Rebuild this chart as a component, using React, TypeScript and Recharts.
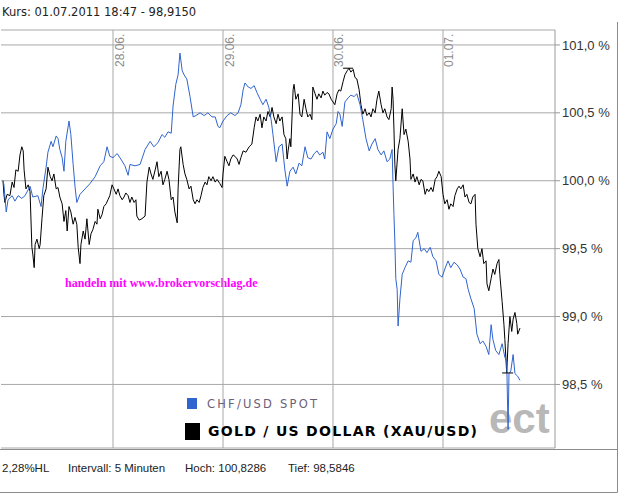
import { LineChart, Line, XAxis, YAxis, CartesianGrid, ReferenceLine } from "recharts"

const W = 623
const H = 495

// hours since 27.06. 00:00, one entry per sampled quote
const chfHours = [
	0, 0.2, 0.7, 1.1, 2.0, 2.6, 3.3, 4.1, 4.8, 5.9,
	6.5, 7.6, 8.3, 8.7, 9.4, 9.8, 10.5, 10.9, 11.6, 12.0,
	12.4, 12.9, 13.3, 13.7, 14.4, 14.8, 15.3, 15.7, 16.1, 16.8,
	17.9, 19.0, 20.1, 21.2, 22.0, 22.7, 23.3, 24.0, 24.9, 25.7,
	26.6, 27.3, 27.7, 28.8, 29.9, 31.0, 32.1, 32.9, 33.8, 34.7,
	35.3, 36.0, 36.7, 37.1, 37.7, 38.2, 38.6, 39.1, 39.5, 40.1,
	40.8, 41.5, 42.1, 43.0, 43.9, 44.7, 45.6, 46.3, 46.9, 47.3,
	48.0, 48.9, 49.7, 50.6, 51.3, 51.9, 52.4, 52.8, 53.5, 54.1,
	54.8, 55.4, 56.1, 56.7, 57.4, 58.0, 58.5, 58.9, 59.6, 60.2,
	60.9, 61.5, 62.0, 62.6, 63.3, 63.9, 64.6, 65.2, 65.9, 66.5,
	67.2, 67.9, 68.5, 69.1, 69.8, 70.2, 70.7, 71.3, 72.0, 72.7,
	73.1, 73.5, 74.0, 74.6, 75.3, 75.9, 76.6, 77.2, 77.9, 78.5,
	79.2, 79.9, 80.5, 81.2, 81.8, 82.5, 83.1, 83.8, 84.4, 84.9,
	85.1, 85.3, 85.5, 85.7, 86.0, 86.2, 86.6, 87.1, 87.7, 88.4,
	89.0, 89.5, 90.1, 90.5, 91.2, 91.9, 92.5, 93.2, 93.8, 94.5,
	95.1, 95.8, 96.4, 97.1, 97.7, 98.4, 99.1, 99.7, 100.4, 101.0,
	101.5, 102.1, 102.8, 103.4, 104.1, 104.7, 105.4, 106.0, 106.5, 106.9,
	107.5, 108.2, 108.9, 109.5, 109.9, 110.2, 110.4, 110.8, 111.3, 111.7,
	112.3, 112.8
]

// CHF/USD SPOT, in % of start value
const chfValues = [
	100.00, 99.97, 99.77, 99.86, 99.89, 99.85, 99.89, 99.87, 99.89, 99.96,
	99.88, 99.89, 99.81, 99.94, 100.10, 100.21, 100.29, 100.25, 100.33, 100.31,
	100.23, 100.17, 100.07, 100.29, 100.44, 100.34, 100.12, 99.96, 99.84, 99.90,
	99.94, 99.98, 100.03, 100.11, 100.14, 100.25, 100.18, 100.17, 100.20, 100.16,
	100.11, 100.04, 100.12, 100.11, 100.12, 100.23, 100.29, 100.25, 100.28, 100.34,
	100.32, 100.36, 100.35, 100.55, 100.71, 100.78, 100.94, 100.81, 100.78, 100.75,
	100.62, 100.47, 100.48, 100.50, 100.48, 100.50, 100.47, 100.47, 100.40, 100.39,
	100.44, 100.48, 100.50, 100.48, 100.50, 100.56, 100.67, 100.72, 100.69, 100.68,
	100.70, 100.65, 100.60, 100.56, 100.60, 100.54, 100.45, 100.34, 100.14, 100.25,
	100.27, 100.08, 99.96, 100.07, 100.10, 100.05, 100.13, 100.11, 100.25, 100.17,
	100.16, 100.20, 100.22, 100.19, 100.21, 100.16, 100.36, 100.31, 100.38, 100.42,
	100.51, 100.49, 100.40, 100.58, 100.61, 100.63, 100.62, 100.64, 100.56, 100.45,
	100.31, 100.22, 100.27, 100.31, 100.23, 100.19, 100.22, 100.14, 100.16, 100.23,
	99.97, 99.75, 99.55, 99.28, 99.20, 98.93, 99.13, 99.31, 99.36, 99.41,
	99.40, 99.56, 99.58, 99.62, 99.48, 99.50, 99.47, 99.51, 99.44, 99.41,
	99.31, 99.29, 99.35, 99.41, 99.36, 99.40, 99.38, 99.35, 99.29, 99.28,
	99.20, 99.13, 99.06, 98.87, 98.80, 98.82, 98.78, 98.72, 98.94, 98.83,
	98.75, 98.72, 98.80, 98.70, 98.67, 98.17, 98.58, 98.60, 98.72, 98.58,
	98.56, 98.53
]

const xauHours = [
	0, 0.2, 0.4, 0.9, 1.5, 2.0, 2.4, 2.8, 3.3, 3.7,
	4.1, 4.4, 4.6, 5.0, 5.5, 5.9, 6.3, 6.5, 6.8, 7.0,
	7.4, 7.9, 8.1, 8.5, 8.9, 9.4, 9.8, 10.3, 10.7, 11.1,
	11.6, 12.0, 12.4, 12.9, 13.3, 13.7, 14.0, 14.4, 14.8, 15.3,
	15.7, 16.1, 16.4, 16.8, 17.0, 17.5, 17.9, 18.3, 18.8, 19.2,
	19.6, 20.1, 20.5, 20.7, 21.2, 21.6, 22.0, 22.5, 22.9, 23.3,
	23.8, 24.2, 24.7, 25.1, 25.5, 26.0, 26.4, 26.8, 27.3, 27.7,
	28.1, 28.6, 29.0, 29.2, 29.7, 30.3, 31.0, 31.4, 31.9, 32.3,
	32.7, 33.2, 33.6, 34.0, 34.5, 34.9, 35.3, 35.8, 36.2, 36.7,
	37.1, 37.5, 38.0, 38.2, 38.6, 38.8, 39.3, 39.7, 40.1, 40.6,
	41.0, 41.5, 41.9, 42.3, 42.8, 43.2, 43.6, 44.1, 44.5, 44.9,
	45.4, 45.8, 46.3, 46.7, 47.3, 47.8, 48.0, 48.4, 48.9, 49.3,
	49.7, 50.2, 50.6, 51.1, 51.5, 51.9, 52.4, 53.0, 53.7, 54.3,
	54.8, 55.2, 55.6, 56.1, 56.5, 56.9, 57.4, 57.8, 58.3, 58.7,
	59.1, 59.6, 60.0, 60.4, 60.9, 61.3, 61.7, 62.0, 62.2, 62.6,
	62.8, 63.3, 63.5, 63.9, 64.4, 64.8, 65.2, 65.7, 66.1, 66.5,
	67.0, 67.4, 67.6, 68.1, 68.5, 68.9, 69.4, 69.8, 70.2, 70.7,
	71.1, 71.6, 72.0, 72.4, 72.9, 73.3, 73.7, 74.2, 74.6, 75.1,
	75.5, 75.9, 76.4, 76.8, 77.2, 77.7, 78.1, 78.5, 79.0, 79.4,
	79.9, 80.3, 80.7, 81.2, 81.6, 82.0, 82.5, 82.9, 83.3, 83.8,
	84.2, 84.7, 84.9, 85.1, 85.3, 85.5, 85.7, 86.2, 86.6, 87.1,
	87.5, 87.9, 88.4, 88.8, 89.0, 89.5, 89.9, 90.3, 90.8, 91.2,
	91.6, 92.1, 92.5, 92.9, 93.4, 93.8, 94.3, 94.7, 95.1, 95.6,
	96.0, 96.4, 96.9, 97.3, 97.7, 98.2, 98.6, 99.1, 99.5, 99.9,
	100.4, 100.8, 101.2, 101.7, 102.1, 102.5, 103.0, 103.2, 103.6, 104.1,
	104.5, 104.9, 105.4, 105.6, 106.0, 106.5, 106.9, 107.3, 107.8, 108.2,
	108.4, 108.9, 109.3, 109.5, 109.9, 110.2, 110.6, 111.0, 111.3, 111.7,
	112.1, 112.3, 112.8
]

// GOLD / US DOLLAR (XAU/USD), in % of start value
const xauValues = [
	100.00, 99.90, 99.84, 99.90, 99.89, 99.99, 99.95, 100.08, 100.07, 100.19,
	100.25, 100.22, 100.08, 99.94, 99.97, 99.92, 99.51, 99.46, 99.36, 99.53,
	99.57, 99.50, 99.53, 99.72, 99.89, 99.94, 100.10, 100.03, 100.00, 100.05,
	99.94, 99.95, 99.88, 99.83, 99.70, 99.78, 99.63, 99.81, 99.77, 99.68,
	99.73, 99.68, 99.51, 99.39, 99.53, 99.63, 99.57, 99.72, 99.53, 99.61,
	99.64, 99.70, 99.68, 99.79, 99.72, 99.75, 99.81, 99.83, 99.86, 99.89,
	99.97, 99.94, 99.90, 99.94, 99.89, 99.86, 99.88, 99.91, 99.89, 99.84,
	99.88, 99.84, 99.86, 99.74, 99.71, 99.72, 99.74, 99.99, 100.10, 100.05,
	100.01, 100.08, 100.14, 100.03, 100.07, 99.97, 100.01, 100.07, 100.01, 99.86,
	99.88, 99.77, 99.69, 99.94, 100.23, 100.25, 100.12, 100.05, 100.01, 99.94,
	99.96, 99.86, 99.83, 99.86, 99.84, 99.89, 99.95, 99.99, 99.97, 100.03,
	100.00, 100.03, 99.99, 100.01, 99.98, 99.95, 100.05, 100.18, 100.14, 100.11,
	100.16, 100.19, 100.18, 100.16, 100.12, 100.17, 100.22, 100.21, 100.25, 100.27,
	100.39, 100.47, 100.44, 100.49, 100.39, 100.47, 100.44, 100.51, 100.47, 100.54,
	100.47, 100.42, 100.49, 100.44, 100.47, 100.34, 100.31, 100.16, 100.22, 100.31,
	100.25, 100.67, 100.71, 100.60, 100.64, 100.49, 100.47, 100.60, 100.53, 100.47,
	100.49, 100.45, 100.69, 100.64, 100.60, 100.64, 100.61, 100.66, 100.63, 100.65,
	100.64, 100.60, 100.58, 100.56, 100.64, 100.67, 100.66, 100.73, 100.78, 100.81,
	100.8286, 100.80, 100.82, 100.76, 100.75, 100.67, 100.56, 100.49, 100.53, 100.48,
	100.50, 100.47, 100.53, 100.50, 100.60, 100.66, 100.56, 100.50, 100.53, 100.47,
	100.45, 100.53, 100.69, 100.60, 100.38, 100.12, 100.00, 100.23, 100.31, 100.53,
	100.34, 100.38, 100.29, 100.16, 100.01, 100.05, 99.99, 100.03, 99.97, 100.01,
	100.00, 99.90, 99.94, 99.92, 99.95, 99.92, 100.01, 100.03, 100.07, 100.03,
	99.90, 99.83, 99.86, 99.79, 99.83, 99.81, 99.89, 99.94, 99.96, 99.94,
	99.97, 99.88, 99.90, 99.84, 99.83, 99.88, 99.90, 99.68, 99.50, 99.44,
	99.50, 99.39, 99.41, 99.24, 99.19, 99.28, 99.35, 99.31, 99.39, 99.42,
	99.31, 99.11, 98.94, 98.83, 98.5846, 98.80, 99.00, 98.89, 98.98, 99.03,
	98.95, 98.87, 98.915
]

const dayHours = [24, 48, 72, 96]
const dayLabels = ["28.06.", "29.06.", "30.06.", "01.07."]
const yTicks = [98.5, 99.0, 99.5, 100.0, 100.5, 101.0]

const HOCH = 100.8286
const TIEF = 98.5846
const hochSpan = [74.2, 76.4]
const tiefSpan = [108.9, 111.3]

const chfData = chfHours.map((h, i) => ({ h, v: chfValues[i] }))
const xauData = xauHours.map((h, i) => ({ h, v: xauValues[i] }))

const GRID = "#a8a8a8"
const BLUE = "#3064cf"

function DayLabel({ viewBox, text }: any) {
	const x = viewBox.x + 10.5
	const y = viewBox.y + 37
	return (
		<text x={x} y={y} transform={`rotate(-90 ${x} ${y})`} fill="#8c8c8c" fontSize={12} fontFamily="Liberation Sans, Arial, sans-serif">
			{text}
		</text>
	)
}

// legend drawn as an overlay so it takes no room from the plot
function LegendBox() {
	return (
		<div style={{ position: "absolute", left: 0, top: 0, width: W, height: H, pointerEvents: "none" }}>
			<div style={{ position: "absolute", left: 187, top: 398, width: 10, height: 11, background: BLUE }} />
			<div style={{ position: "absolute", left: 207, top: 397, fontFamily: "DejaVu Sans", fontSize: 11.5, letterSpacing: 2.2, color: "#6b6079", lineHeight: "14px", whiteSpace: "nowrap" }}>CHF/USD SPOT</div>
			<div style={{ position: "absolute", left: 185, top: 423, width: 15, height: 17, background: "#000" }} />
			<div style={{ position: "absolute", left: 208, top: 422, fontFamily: "DejaVu Sans", fontWeight: 700, fontSize: 14, letterSpacing: 1.3, color: "#000", lineHeight: "18px", whiteSpace: "nowrap" }}>GOLD / US DOLLAR (XAU/USD)</div>
		</div>
	)
}

export default function App() {
	const fmt = (v: number) => Number(v).toFixed(1).replace(".", ",") + " %"
	return (
		<div style={{ position: "absolute", left: 0, top: 0, width: W, height: H, background: "#fff", overflow: "hidden" }}>
			<svg width={W} height={H} style={{ position: "absolute", left: 0, top: 0 }}>
				<text x={2} y={16} fontFamily="DejaVu Sans" fontSize={11.5} fill="#222">Kurs: 01.07.2011 18:47 - 98,9150</text>
				<text x={65} y={287} fontFamily="Liberation Serif" fontWeight={700} fontSize={12} fill="#ff00ff">handeln mit www.brokervorschlag.de</text>
				<text x={489} y={433} fontFamily="Liberation Sans" fontWeight={700} fontSize={42} fill="#b8b8b8">ect</text>
				<line x1={617.5} y1={22} x2={617.5} y2={492.5} stroke="#8c8c8c" />
				<line x1={0} y1={449.5} x2={617.5} y2={449.5} stroke="#8c8c8c" />
				<line x1={0} y1={492.5} x2={617.5} y2={492.5} stroke="#8c8c8c" />
				<g fontFamily="Liberation Sans" fontSize={11.5} fill="#222">
					<text x={2} y={472}>2,28%HL</text>
					<text x={68} y={472}>Intervall: 5 Minuten</text>
					<text x={185} y={472}>Hoch: 100,8286</text>
					<text x={288} y={472}>Tief: 98,5846</text>
				</g>
			</svg>
			<div style={{ position: "absolute", left: 0, top: 0 }}>
				<LineChart width={W} height={H} margin={{ top: 30, right: 0, bottom: 47, left: 1 }}>
					<CartesianGrid horizontal vertical={false} stroke={GRID} />
					<XAxis type="number" dataKey="h" domain={[-0.44, 120.44]} hide height={0} allowDataOverflow />
					<YAxis
						orientation="right"
						width={68}
						type="number"
						domain={[98.032, 101.11]}
						ticks={yTicks}
						tickFormatter={fmt}
						allowDataOverflow
						axisLine={{ stroke: "#999" }}
						tickLine={{ stroke: "#999" }}
						tickSize={5}
						tickMargin={2}
						tick={{ fill: "#333", fontSize: 13, fontFamily: "Liberation Sans" }}
					/>
					{dayHours.map((d, i) => (
						<ReferenceLine key={d} x={d} stroke={GRID} label={<DayLabel text={dayLabels[i]} />} />
					))}
					<Line data={xauData} dataKey="v" name="GOLD / US DOLLAR (XAU/USD)" stroke="#000" strokeWidth={1} dot={false} isAnimationActive={false} />
					<Line data={chfData} dataKey="v" name="CHF/USD SPOT" stroke={BLUE} strokeWidth={1} dot={false} isAnimationActive={false} />
					<ReferenceLine segment={[{ x: hochSpan[0], y: HOCH }, { x: hochSpan[1], y: HOCH }]} stroke="#000" />
					<ReferenceLine segment={[{ x: tiefSpan[0], y: TIEF }, { x: tiefSpan[1], y: TIEF }]} stroke="#000" />
				</LineChart>
			</div>
			<LegendBox />
		</div>
	)
}
